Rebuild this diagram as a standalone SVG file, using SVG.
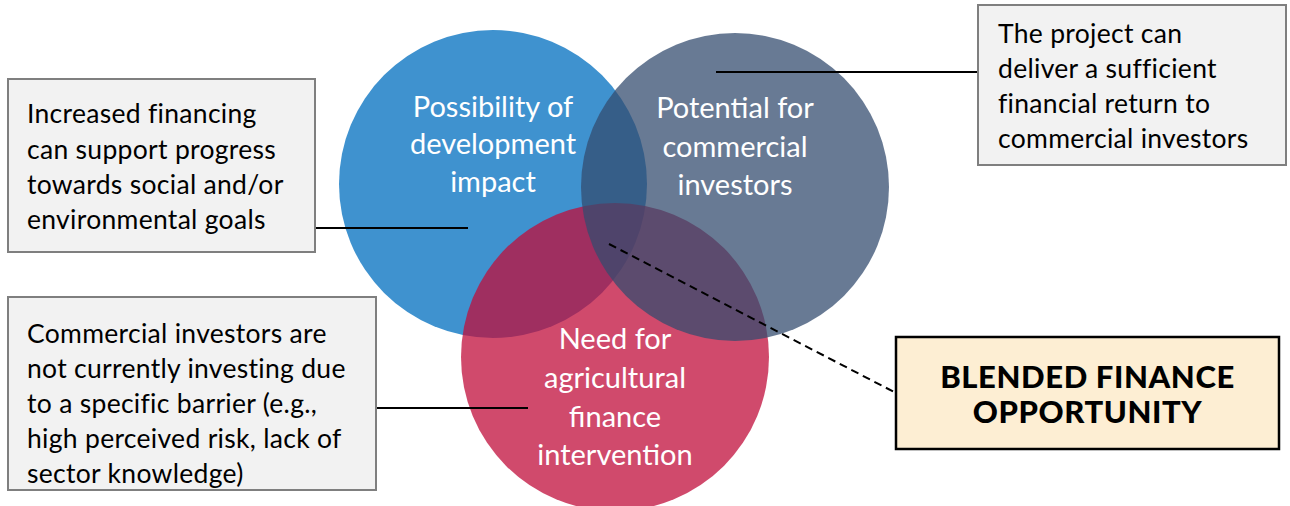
<svg xmlns="http://www.w3.org/2000/svg" width="1290" height="506" viewBox="0 0 1290 506">
<style>
.box{fill:#f2f2f2;stroke:#7f7f7f;stroke-width:2}
.bt{font-family:Lato,"Liberation Sans",sans-serif;font-size:26.5px;letter-spacing:0.3px;fill:#000}
.ct{font-family:Lato,"Liberation Sans",sans-serif;font-size:29px;fill:#fff;text-anchor:middle}
.ln{stroke:#000;stroke-width:2;fill:none}
.bf{font-family:Lato,"Liberation Sans",sans-serif;font-size:31px;font-weight:900;letter-spacing:0.6px;text-anchor:middle;fill:#000}
</style>
<rect width="1290" height="506" fill="#fff"/>
<g id="circle-development">
<circle cx="493" cy="184" r="154" fill="#3f92cf"/>
</g>
<g id="circle-need">
<circle cx="615" cy="357" r="154" fill="#c00d3b" fill-opacity="0.75"/>
</g>
<g id="circle-commercial">
<circle cx="735" cy="187" r="154" fill="#334c6f" fill-opacity="0.74"/>
</g>
<g id="labels-circles">
<text class="ct" x="493" y="117">Possibility of</text>
<text class="ct" x="493" y="154">development</text>
<text class="ct" x="493" y="192">impact</text>
<text class="ct" x="735" y="118">Potential for</text>
<text class="ct" x="735" y="157">commercial</text>
<text class="ct" x="735" y="195">investors</text>
<text class="ct" x="615" y="349">Need for</text>
<text class="ct" x="615" y="388">agricultural</text>
<text class="ct" x="615" y="427">finance</text>
<text class="ct" x="615" y="465">intervention</text>
</g>
<g id="connectors">
<line class="ln" x1="315" y1="228" x2="468" y2="228"/>
<line class="ln" x1="376" y1="408" x2="528" y2="408"/>
<line class="ln" x1="716" y1="72" x2="978" y2="72"/>
<line class="ln" x1="609" y1="244" x2="896" y2="393" stroke-dasharray="8,5"/>
</g>
<g id="box-impact">
<rect class="box" x="8" y="79" width="307" height="173"/>
<text class="bt" x="27" y="123">Increased financing</text>
<text class="bt" x="27" y="159">can support progress</text>
<text class="bt" x="27" y="194">towards social and/or</text>
<text class="bt" x="27" y="229">environmental goals</text>
</g>
<g id="box-barrier">
<rect class="box" x="8" y="297" width="368" height="193"/>
<text class="bt" x="27" y="343">Commercial investors are</text>
<text class="bt" x="27" y="378">not currently investing due</text>
<text class="bt" x="27" y="413">to a specific barrier (e.g.,</text>
<text class="bt" x="27" y="448">high perceived risk, lack of</text>
<text class="bt" x="27" y="483">sector knowledge)</text>
</g>
<g id="box-return">
<rect class="box" x="978" y="5" width="308" height="160"/>
<text class="bt" x="998" y="43">The project can</text>
<text class="bt" x="998" y="78">deliver a sufficient</text>
<text class="bt" x="998" y="113">financial return to</text>
<text class="bt" x="998" y="148">commercial investors</text>
</g>
<g id="box-blended">
<rect x="896" y="337" width="383" height="112" fill="#fdeed3" stroke="#000" stroke-width="2.5"/>
<text class="bf" x="1087.5" y="388">BLENDED FINANCE</text>
<text class="bf" x="1087.5" y="423">OPPORTUNITY</text>
</g>
</svg>
